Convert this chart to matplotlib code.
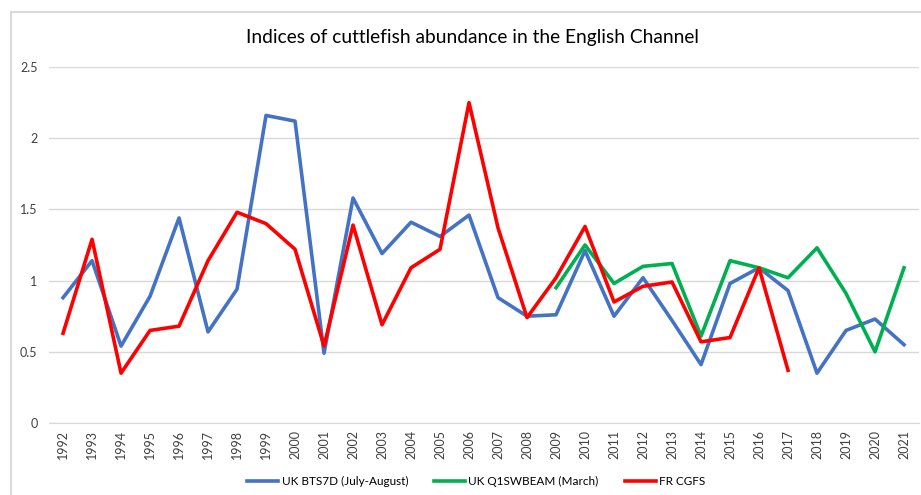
import numpy as np
import matplotlib
matplotlib.use('Agg')
import matplotlib.pyplot as plt
from matplotlib.patches import Rectangle

plt.rcParams['font.family'] = ['Lato', 'DejaVu Sans']

years = [str(y) for y in range(1992, 2022)]

uk_bts7d = [0.88, 1.14, 0.54, 0.89, 1.44, 0.64, 0.94, 2.16, 2.12, 0.49,
            1.58, 1.19, 1.41, 1.31, 1.46, 0.88, 0.75, 0.76, 1.21, 0.75,
            1.02, 0.72, 0.41, 0.98, 1.09, 0.93, 0.35, 0.65, 0.73, 0.55]

# Q1SWBEAM starts in 2009
uk_q1swbeam = [np.nan] * 17 + [0.95, 1.25, 0.98, 1.10, 1.12, 0.61, 1.14,
                               1.09, 1.02, 1.23, 0.91, 0.50, 1.09]

# FR CGFS ends in 2017
fr_cgfs = [0.63, 1.29, 0.35, 0.65, 0.68, 1.14, 1.48, 1.40, 1.22, 0.54,
           1.39, 0.69, 1.09, 1.22, 2.25, 1.37, 0.74, 1.02, 1.38, 0.85,
           0.96, 0.99, 0.57, 0.60, 1.09, 0.37] + [np.nan] * 4

fig = plt.figure(figsize=(9.21, 4.95), dpi=100)

# chart border (cropped at right and bottom in the original)
fig.patches.append(Rectangle((11 / 921, -0.1), 1.2, 1.1 - 12 / 495,
                             transform=fig.transFigure, fill=False,
                             edgecolor='#D9D9D9', lw=1.5))

ax = fig.add_axes([0.0527, 0.1455, 0.9446, 0.7191])

x = np.arange(len(years))
ax.plot(x, uk_bts7d, color='#4472C4', lw=2.6, label='UK BTS7D (July-August)')
ax.plot(x, uk_q1swbeam, color='#00B050', lw=2.6, label='UK Q1SWBEAM (March)')
ax.plot(x, fr_cgfs, color='#FF0000', lw=2.6, label='FR CGFS')

ax.set_xlim(-0.5, len(years) - 0.5)
ax.set_ylim(0, 2.5)
ax.set_yticks([0, 0.5, 1, 1.5, 2, 2.5])
ax.set_yticklabels(['0', '0.5', '1', '1.5', '2', '2.5'])
ax.set_xticks(x)
ax.set_xticklabels(years, rotation=90)
ax.tick_params(axis='both', length=0, labelsize=9, colors='#404040')
ax.tick_params(axis='y', pad=8)
ax.tick_params(axis='x', pad=5)
ax.grid(axis='y', color='#D9D9D9', lw=1)
ax.set_axisbelow(True)
for s in ['top', 'right', 'left']:
    ax.spines[s].set_visible(False)
ax.spines['bottom'].set_color('#D9D9D9')

fig.text(0.513, 0.925, 'Indices of cuttlefish abundance in the English Channel',
         ha='center', va='center', fontsize=13.8, color='#000000')

fig.legend(loc='center', bbox_to_anchor=(0.517, 0.027), ncol=3, frameon=False,
           fontsize=8.5, handlelength=2.65, handletextpad=0.26,
           columnspacing=2.2)

fig.savefig('out.png', dpi=100)
